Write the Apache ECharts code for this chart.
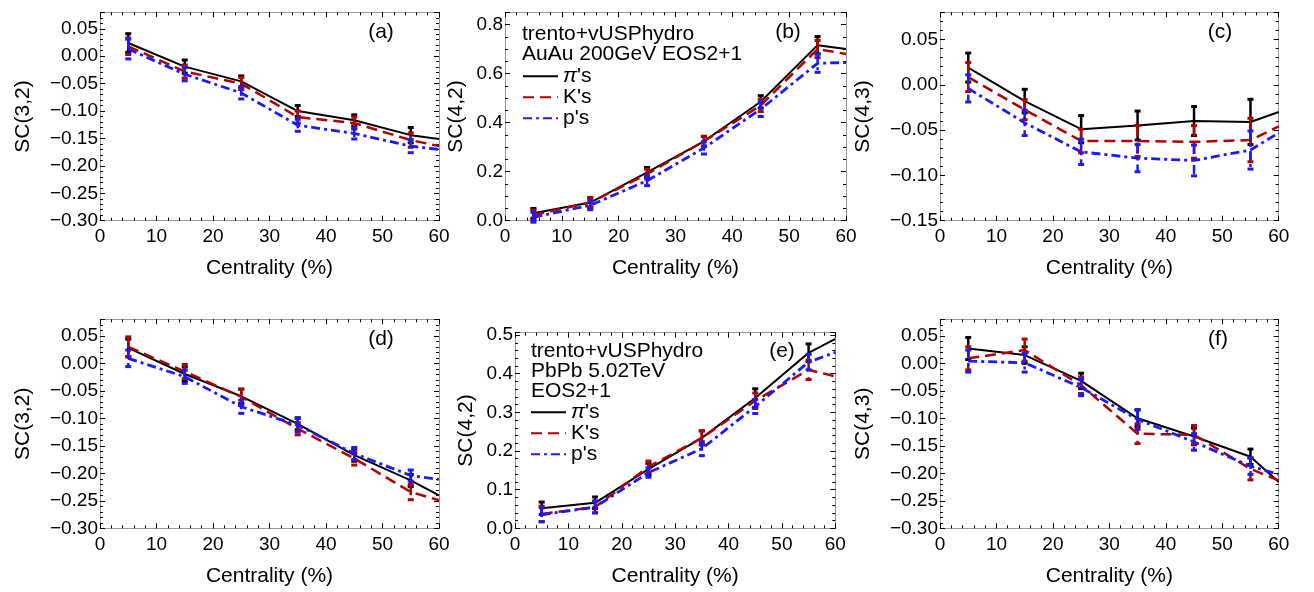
<!DOCTYPE html>
<html><head><meta charset="utf-8">
<script src="https://cdn.jsdelivr.net/npm/echarts@6/dist/echarts.min.js"></script>
<style>html,body{margin:0;padding:0;background:#fff}#c{width:1314px;height:592px}</style>
</head><body><div id="c"></div>
<script>
// x positions (centrality bin centres) ; last entry = value read at the frame edge (x = 60)
const centrality = [5, 15, 25, 35, 45, 55, 60];
const speciesNames = ["π's", "K's", "p's"];
const panelLabels = ['(a)', '(b)', '(c)', '(d)', '(e)', '(f)'];
const yTitles = ['SC(3,2)', 'SC(4,2)', 'SC(4,3)', 'SC(3,2)', 'SC(4,2)', 'SC(4,3)'];
const xTitle = 'Centrality (%)';
const legendTextB = ['trento+vUSPhydro', 'AuAu 200GeV EOS2+1'];
const legendTextE = ['trento+vUSPhydro', 'PbPb 5.02TeV', 'EOS2+1'];

// (a) SC(3,2) AuAu
const a_pi = [0.024, -0.019, -0.046, -0.100, -0.117, -0.144, -0.151];
const a_K  = [0.018, -0.028, -0.050, -0.111, -0.122, -0.153, -0.164];
const a_p  = [0.013, -0.033, -0.067, -0.126, -0.141, -0.164, -0.170];
const a_pi_err = [0.017, 0.012, 0.010, 0.010, 0.010, 0.014];
const a_K_err  = [0.015, 0.012, 0.011, 0.011, 0.011, 0.013];
const a_p_err  = [0.018, 0.012, 0.011, 0.011, 0.010, 0.012];
// (b) SC(4,2) AuAu
const b_pi = [0.030, 0.074, 0.197, 0.324, 0.485, 0.716, 0.700];
const b_K  = [0.023, 0.074, 0.190, 0.324, 0.470, 0.700, 0.680];
const b_p  = [0.014, 0.063, 0.163, 0.297, 0.455, 0.642, 0.645];
const b_pi_err = [0.020, 0.020, 0.020, 0.020, 0.025, 0.035];
const b_K_err  = [0.020, 0.018, 0.020, 0.020, 0.025, 0.035];
const b_p_err  = [0.020, 0.018, 0.020, 0.025, 0.030, 0.037];
// (c) SC(4,3) AuAu
const c_pi = [0.019, -0.018, -0.049, -0.045, -0.040, -0.041, -0.030];
const c_K  = [0.0085, -0.0275, -0.062, -0.062, -0.063, -0.061, -0.046];
const c_p  = [-0.004, -0.042, -0.074, -0.081, -0.0835, -0.072, -0.053];
const c_pi_err = [0.016, 0.013, 0.015, 0.016, 0.016, 0.025];
const c_K_err  = [0.016, 0.011, 0.013, 0.017, 0.018, 0.024];
const c_p_err  = [0.015, 0.014, 0.014, 0.015, 0.017, 0.021];
// (d) SC(3,2) PbPb
const d_pi = [0.028, -0.0195, -0.060, -0.110, -0.167, -0.213, -0.240];
const d_K  = [0.030, -0.015, -0.061, -0.119, -0.173, -0.234, -0.249];
const d_p  = [0.009, -0.0245, -0.079, -0.1125, -0.164, -0.204, -0.211];
const d_pi_err = [0.016, 0.013, 0.013, 0.011, 0.011, 0.011];
const d_K_err  = [0.018, 0.013, 0.014, 0.011, 0.012, 0.014];
const d_p_err  = [0.015, 0.012, 0.012, 0.012, 0.011, 0.010];
// (e) SC(4,2) PbPb
const e_pi = [0.052, 0.066, 0.153, 0.234, 0.337, 0.454, 0.490];
const e_K  = [0.037, 0.055, 0.159, 0.234, 0.330, 0.410, 0.393];
const e_p  = [0.035, 0.055, 0.144, 0.206, 0.315, 0.430, 0.455];
const e_pi_err = [0.016, 0.015, 0.015, 0.018, 0.024, 0.023];
const e_K_err  = [0.020, 0.015, 0.015, 0.018, 0.020, 0.025];
const e_p_err  = [0.018, 0.015, 0.012, 0.018, 0.018, 0.020];
// (f) SC(4,3) PbPb
const f_pi = [0.027, 0.015, -0.032, -0.100, -0.133, -0.170, -0.216];
const f_K  = [0.009, 0.024, -0.040, -0.128, -0.130, -0.192, -0.213];
const f_p  = [0.004, 0.001, -0.044, -0.102, -0.143, -0.187, -0.202];
const f_pi_err = [0.020, 0.015, 0.014, 0.015, 0.015, 0.014];
const f_K_err  = [0.021, 0.020, 0.015, 0.018, 0.017, 0.020];
const f_p_err  = [0.020, 0.017, 0.015, 0.018, 0.015, 0.015];

const fam = "'Liberation Sans', Arial, Helvetica, sans-serif";
const colors = ['#000000', '#b30000', '#1a1aff'];
const widths = [2, 2.5, 2.8];
const dashes = ['solid', [11, 6], [9, 4, 3, 4]];

const panels = [
  {grid: {left: 100, top: 12.3, width: 339, height: 208.4}, ymin: -0.30, ymax: 0.08, major: 0.05, minor: 0.01, dec: 2, nameGap: 66,
   vals: [a_pi, a_K, a_p], errs: [a_pi_err, a_K_err, a_p_err]},
  {grid: {left: 505, top: 12.3, width: 341, height: 208.4}, ymin: 0, ymax: 0.85, major: 0.2, minor: 0.05, dec: 1, nameGap: 38,
   vals: [b_pi, b_K, b_p], errs: [b_pi_err, b_K_err, b_p_err]},
  {grid: {left: 940, top: 12.3, width: 338.7, height: 208.4}, ymin: -0.15, ymax: 0.08, major: 0.05, minor: 0.01, dec: 2, nameGap: 66,
   vals: [c_pi, c_K, c_p], errs: [c_pi_err, c_K_err, c_p_err]},
  {grid: {left: 100, top: 319.3, width: 339, height: 209}, ymin: -0.30, ymax: 0.08, major: 0.05, minor: 0.01, dec: 2, nameGap: 66,
   vals: [d_pi, d_K, d_p], errs: [d_pi_err, d_K_err, d_p_err]},
  {grid: {left: 515, top: 332.7, width: 320.3, height: 195.6}, ymin: 0, ymax: 0.506, major: 0.1, minor: 0.02, dec: 1, nameGap: 38,
   vals: [e_pi, e_K, e_p], errs: [e_pi_err, e_K_err, e_p_err]},
  {grid: {left: 940, top: 319.3, width: 338.7, height: 209}, ymin: -0.30, ymax: 0.08, major: 0.05, minor: 0.01, dec: 2, nameGap: 66,
   vals: [f_pi, f_K, f_p], errs: [f_pi_err, f_K_err, f_p_err]}
];
const labelPos = [[381, 32.5], [788, 32.5], [1220, 32.5], [381, 339], [782, 351], [1218, 339]];

const frameLine = {show: true, onZero: false, lineStyle: {color: '#9a9a9a', width: 1}};
const noLine = {show: false, onZero: false};
const majTick = {show: true, inside: true, length: 5, lineStyle: {color: '#000', width: 1}};
const minTick = {show: true, inside: true, length: 3, lineStyle: {color: '#000', width: 1}};
const noLabel = {show: false};
const noSplit = {show: false};
const nameStyle = {fontSize: 21, fontFamily: fam, color: '#000'};
const tickFont = 19;

const grids = [], xAxes = [], yAxes = [], series = [];

panels.forEach((p, gi) => {
  grids.push(p.grid);
  const xb = {gridIndex: gi, type: 'value', min: 0, max: 60, splitLine: noSplit};
  xAxes.push(Object.assign({}, xb, {position: 'bottom', interval: 10, axisLine: frameLine, axisTick: majTick,
    axisLabel: {fontSize: tickFont, fontFamily: fam, color: '#000', margin: 7},
    name: xTitle, nameLocation: 'middle', nameGap: 37, nameTextStyle: nameStyle}));
  xAxes.push(Object.assign({}, xb, {position: 'bottom', interval: 2, axisLine: noLine, axisTick: minTick, axisLabel: noLabel}));
  xAxes.push(Object.assign({}, xb, {position: 'top', interval: 10, axisLine: frameLine, axisTick: majTick, axisLabel: noLabel}));
  xAxes.push(Object.assign({}, xb, {position: 'top', interval: 2, axisLine: noLine, axisTick: minTick, axisLabel: noLabel}));

  const yb = {gridIndex: gi, type: 'value', min: p.ymin, max: p.ymax, splitLine: noSplit};
  const fmt = v => {
    const k = v / p.major;
    if (Math.abs(k - Math.round(k)) > 1e-6) return '';
    let s = (Math.abs(v) < 1e-9 ? 0 : v).toFixed(p.dec);
    return s.replace('-', '\u2212');
  };
  yAxes.push(Object.assign({}, yb, {position: 'left', interval: p.major, axisLine: frameLine, axisTick: majTick,
    axisLabel: {fontSize: tickFont, fontFamily: fam, color: '#000', margin: 2, formatter: fmt},
    name: yTitles[gi], nameLocation: 'middle', nameRotate: 90, nameGap: p.nameGap, nameTextStyle: nameStyle}));
  yAxes.push(Object.assign({}, yb, {position: 'left', interval: p.minor, axisLine: noLine, axisTick: minTick, axisLabel: noLabel}));
  yAxes.push(Object.assign({}, yb, {position: 'right', interval: p.major, axisLine: frameLine, axisTick: majTick, axisLabel: noLabel}));
  yAxes.push(Object.assign({}, yb, {position: 'right', interval: p.minor, axisLine: noLine, axisTick: minTick, axisLabel: noLabel}));

  for (let s = 0; s < 3; s++) {
    const vals = p.vals[s], errs = p.errs[s];
    series.push({
      type: 'line', name: speciesNames[s], xAxisIndex: 4 * gi, yAxisIndex: 4 * gi,
      data: centrality.map((x, i) => [x, vals[i]]),
      symbol: 'none', showSymbol: false, clip: true, z: 3 + s,
      lineStyle: {color: colors[s], width: widths[s], type: dashes[s]},
      itemStyle: {color: colors[s]}
    });
    series.push({
      type: 'custom', name: speciesNames[s] + ' err', xAxisIndex: 4 * gi, yAxisIndex: 4 * gi, z: 3 + s,
      data: errs.map((e, i) => [centrality[i], vals[i], e]),
      renderItem: (params, api) => {
        const x = api.value(0), y = api.value(1), e = api.value(2);
        const t = api.coord([x, y + e]), b = api.coord([x, y - e]);
        const dash = Array.isArray(dashes[s]) ? dashes[s] : null;
        return {type: 'group', children: [
          {type: 'line', shape: {x1: t[0], y1: t[1], x2: b[0], y2: b[1]},
           style: {stroke: colors[s], lineWidth: 2.5, lineDash: dash}},
          {type: 'line', shape: {x1: t[0] - 3, y1: t[1], x2: t[0] + 3, y2: t[1]}, style: {stroke: colors[s], lineWidth: 3}},
          {type: 'line', shape: {x1: b[0] - 3, y1: b[1], x2: b[0] + 3, y2: b[1]}, style: {stroke: colors[s], lineWidth: 3}}
        ]};
      }
    });
  }
});

const lf = 21;
const legendText = {
  fontSize: lf, fontFamily: fam, color: '#000', lineHeight: 20,
  rich: {i: {fontStyle: 'italic', fontSize: lf, fontFamily: fam, color: '#000', lineHeight: 20},
         n: {fontSize: lf, fontFamily: fam, color: '#000', lineHeight: 20}}
};
const legendFmt = name => name === "π's" ? "{i|π}{n|'s}" : name;
const legendBase = {data: speciesNames, orient: 'vertical', itemWidth: 35, itemHeight: 14, itemGap: 0, padding: 0,
  itemStyle: {opacity: 0}, textStyle: legendText, formatter: legendFmt, selectedMode: false};

const graphics = [];
panelLabels.forEach((t, i) => graphics.push({type: 'text', x: labelPos[i][0], y: labelPos[i][1], z: 10,
  style: {text: t, font: `21px ${fam}`, fill: '#000', align: 'center', verticalAlign: 'middle'}}));
legendTextB.forEach((t, i) => graphics.push({type: 'text', x: 522, y: 34 + 20.3 * i, z: 10,
  style: {text: t, font: `${lf}px ${fam}`, fill: '#000', align: 'left', verticalAlign: 'middle'}}));
legendTextE.forEach((t, i) => graphics.push({type: 'text', x: 531, y: 351 + 20 * i, z: 10,
  style: {text: t, font: `${lf}px ${fam}`, fill: '#000', align: 'left', verticalAlign: 'middle'}}));

const chart = echarts.init(document.getElementById('c'), null, {renderer: 'canvas'});
chart.setOption({
  backgroundColor: '#fff',
  animation: false,
  grid: grids,
  xAxis: xAxes,
  yAxis: yAxes,
  legend: [
    Object.assign({}, legendBase, {left: 522, top: 65.8}),
    Object.assign({}, legendBase, {left: 530, top: 401.7})
  ],
  graphic: graphics,
  series: series
});
</script></body></html>
